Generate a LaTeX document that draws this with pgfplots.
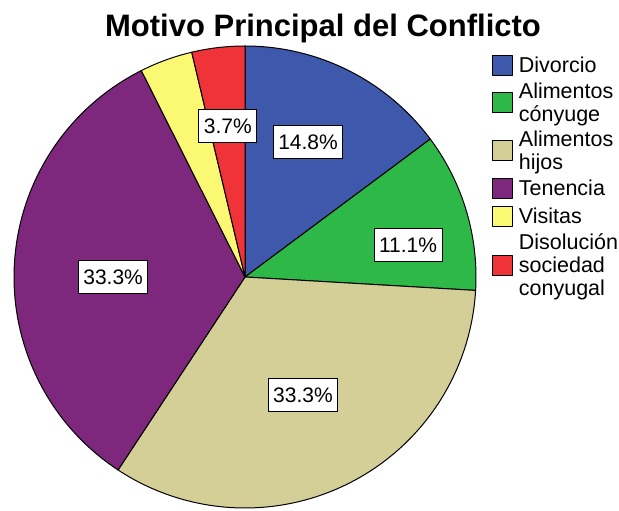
\documentclass[border=0pt]{standalone}
\usepackage{fontspec}
\setmainfont{Liberation Sans}
\usepackage{pgfplots}
\pgfplotsset{compat=1.18}
\definecolor{sblue}{HTML}{3E58AC}
\definecolor{sgreen}{HTML}{2EB848}
\definecolor{stan}{HTML}{D4CE97}
\definecolor{spurple}{HTML}{7D287D}
\definecolor{syellow}{HTML}{FBF873}
\definecolor{sred}{HTML}{EF3338}
\tikzset{lbl/.style={draw=black, fill=white, line width=1pt, font=\fontsize{21}{23}\selectfont,
    inner xsep=5pt, inner ysep=9pt, text height=15pt, text depth=0pt}}
\gdef\cum{0}
\newcommand\total{27}
% #1 count, #2 colour, #3 legend text
\newcommand\slice[3]{%
  \pgfmathsetmacro\angA{90-\cum*360/\total}%
  \pgfmathsetmacro\angB{90-(\cum+#1)*360/\total}%
  \edef\doslice{\noexpand\addplot[fill=#2, draw=black, line width=1pt, line join=round, samples=90, domain=\angB:\angA] ({cos(x)},{sin(x)}) -- (axis cs:0,0) -- cycle;}%
  \doslice
  \addlegendentry{#3}%
  \pgfmathparse{\cum+#1}\xdef\cum{\pgfmathresult}%
}
\begin{document}
\begin{tikzpicture}
\useasboundingbox (0,0) rectangle (619pt,511pt);
\node[font=\fontsize{31}{36}\selectfont\bfseries, anchor=base, inner sep=0pt] at (323pt,474pt) {Motivo Principal del Conflicto};
\begin{axis}[
  hide axis, scale only axis,
  width=462pt, height=462pt,
  xmin=-1, xmax=1, ymin=-1, ymax=1,
  clip=false,
  at={(245pt,234pt)}, anchor=center,
  legend cell align=left,
  legend style={draw=none, fill=none, at={(1.034,0.982)}, anchor=north west,
    font=\fontsize{21.5}{23}\selectfont, cells={align=left},
    row sep=7pt, column sep=6pt, inner sep=0pt, nodes={inner sep=0pt}},
  legend image code/.code={\draw[#1, draw=black, line width=1pt] (0pt,-10pt) rectangle (20pt,10pt);},
]
\slice{4}{sblue}{\strut Divorcio}
\slice{3}{sgreen}{\strut Alimentos\\\strut cónyuge}
\slice{9}{stan}{\strut Alimentos\\\strut hijos}
\slice{9}{spurple}{\strut Tenencia}
\slice{1}{syellow}{\strut Visitas}
\slice{1}{sred}{\strut Disolución\\\strut sociedad\\\strut conyugal}
\node[lbl] at (axis cs:0.273,0.584) {14.8\%};
\node[lbl] at (axis cs:0.706,0.139) {11.1\%};
\node[lbl] at (axis cs:0.251,-0.511) {33.3\%};
\node[lbl] at (axis cs:-0.571,0.0) {33.3\%};
\node[lbl] at (axis cs:-0.074,0.654) {3.7\%};
\end{axis}
\end{tikzpicture}
\end{document}
